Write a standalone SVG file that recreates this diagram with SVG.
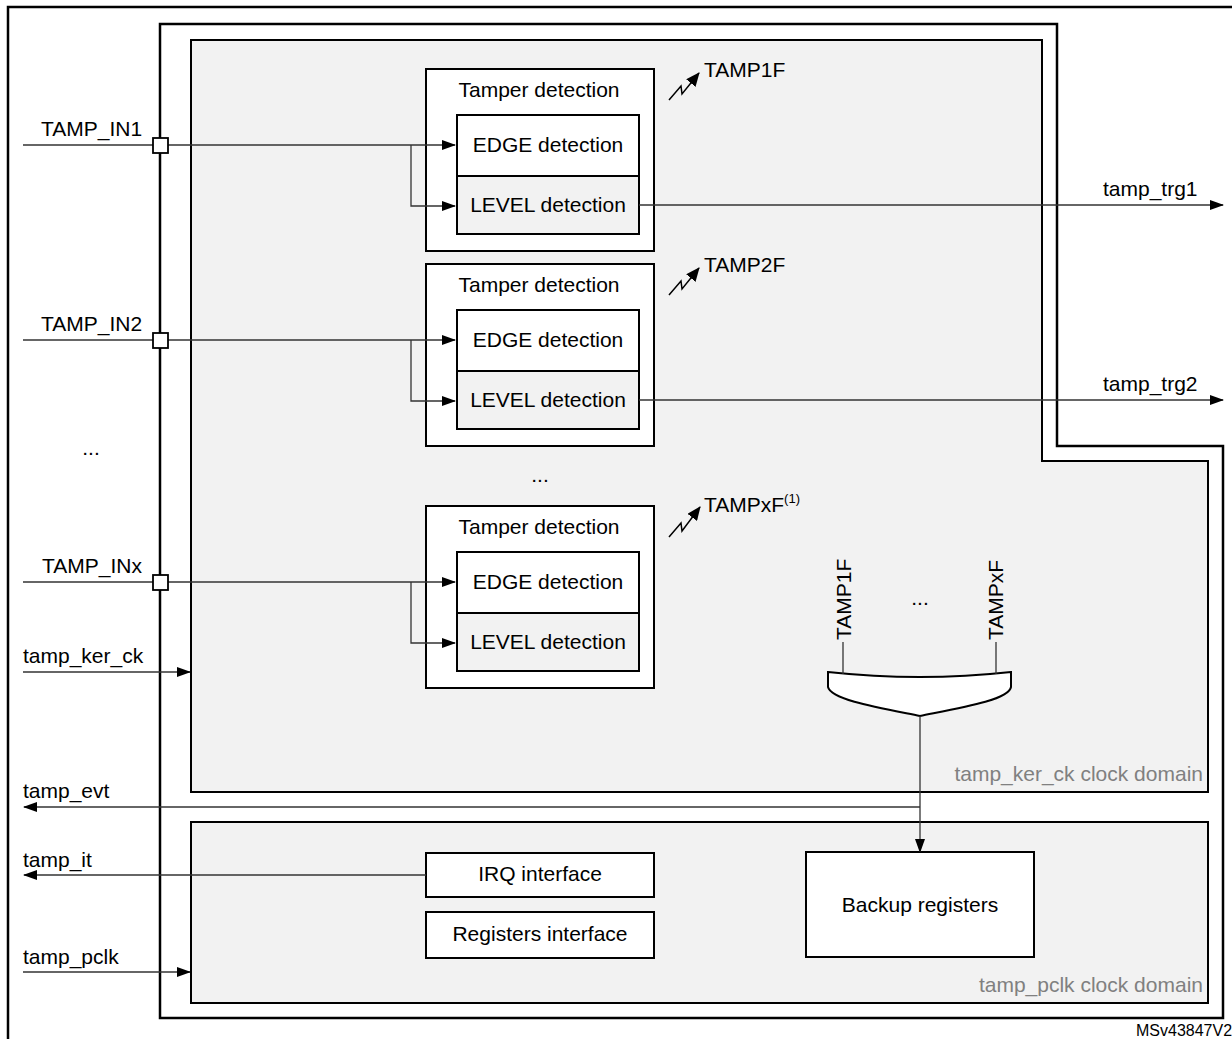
<svg xmlns="http://www.w3.org/2000/svg" width="1232" height="1039" viewBox="0 0 1232 1039">
<defs>
<marker id="arr" markerWidth="14" markerHeight="10" refX="13" refY="5" orient="auto" markerUnits="userSpaceOnUse">
<path d="M0,0 L14,5 L0,10 Z" fill="#000"/>
</marker>
<marker id="bolt" markerWidth="14" markerHeight="12" refX="13" refY="6" orient="auto" markerUnits="userSpaceOnUse">
<path d="M0,0 L14,6 L0,12 Z" fill="#000"/>
</marker>
</defs>
<style>
text{font-family:"Liberation Sans",Arial,sans-serif;font-size:21px;fill:#000}
.c{text-anchor:middle}
.dom{fill:#808080;text-anchor:end}
.frame{fill:none;stroke:#000;stroke-width:2.5}
.box{stroke:#000;stroke-width:2}
.wire{fill:none;stroke:#333;stroke-width:1.3}
.arrw{fill:none;stroke:#333;stroke-width:1.3;marker-end:url(#arr)}
.bl{fill:none;stroke:#000;stroke-width:1.5;marker-end:url(#bolt)}
.pin{fill:#fff;stroke:#000;stroke-width:1.8}
</style>
<rect width="1232" height="1039" fill="#fff"/>
<g id="outer-frame">
<rect x="8" y="7" width="1260" height="1100" class="frame"/>
<path d="M160,24 H1057 V446 H1223 V1018 H160 Z" fill="#fff" stroke="#000" stroke-width="2.5"/>
</g>
<g id="ker-domain">
<path d="M191,40 H1042 V461 H1208 V792 H191 Z" fill="#f2f2f2" stroke="#000" stroke-width="2"/>
<text x="1203" y="781" class="dom">tamp_ker_ck clock domain</text>
</g>
<g id="pclk-domain">
<rect x="191" y="822" width="1017" height="181" fill="#f2f2f2" stroke="#000" stroke-width="2"/>
<text x="1203" y="992" class="dom">tamp_pclk clock domain</text>
</g>
<g id="tamper1">
<rect x="426" y="69" width="228" height="182" fill="#fff" class="box"/>
<text x="539" y="97" class="c">Tamper detection</text>
<rect x="457" y="115" width="182" height="61" fill="#fff" class="box"/>
<text x="548" y="152" class="c">EDGE detection</text>
<rect x="457" y="176" width="182" height="58" fill="#f2f2f2" class="box"/>
<text x="548" y="212" class="c">LEVEL detection</text>
<text x="704" y="77">TAMP1F</text>
</g>
<g id="tamper2">
<rect x="426" y="264" width="228" height="182" fill="#fff" class="box"/>
<text x="539" y="292" class="c">Tamper detection</text>
<rect x="457" y="310" width="182" height="61" fill="#fff" class="box"/>
<text x="548" y="347" class="c">EDGE detection</text>
<rect x="457" y="371" width="182" height="58" fill="#f2f2f2" class="box"/>
<text x="548" y="407" class="c">LEVEL detection</text>
<text x="704" y="272">TAMP2F</text>
</g>
<g id="label-dots-mid"><text x="540" y="482" class="c">...</text></g>
<g id="tamperx">
<rect x="426" y="506" width="228" height="182" fill="#fff" class="box"/>
<text x="539" y="534" class="c">Tamper detection</text>
<rect x="457" y="552" width="182" height="61" fill="#fff" class="box"/>
<text x="548" y="589" class="c">EDGE detection</text>
<rect x="457" y="613" width="182" height="58" fill="#f2f2f2" class="box"/>
<text x="548" y="649" class="c">LEVEL detection</text>
<text x="704" y="512">TAMPxF<tspan dy="-9" font-size="13">(1)</tspan></text>
</g>
<g id="or-gate">
<path d="M828,672 Q920,682 1011,672 L1011,687 C1009,700 960,708 920,716 C880,708 831,700 828,687 Z" fill="#fff" stroke="#000" stroke-width="2"/>
<text transform="translate(851,640) rotate(-90)">TAMP1F</text>
<text transform="translate(1003,640) rotate(-90)">TAMPxF</text>
<text x="920" y="605" class="c">...</text>
</g>
<g id="irq"><rect x="426" y="853" width="228" height="44" fill="#fff" class="box"/><text x="540" y="881" class="c">IRQ interface</text></g>
<g id="regif"><rect x="426" y="912" width="228" height="46" fill="#fff" class="box"/><text x="540" y="941" class="c">Registers interface</text></g>
<g id="backup"><rect x="806" y="852" width="228" height="105" fill="#fff" class="box"/><text x="920" y="912" class="c">Backup registers</text></g>
<g id="connectors">
<path d="M23,145 H455" class="arrw"/>
<path d="M411,145 V206 H455" class="arrw"/>
<path d="M639,205 H1223" class="arrw"/>
<path d="M23,340 H455" class="arrw"/>
<path d="M411,340 V401 H455" class="arrw"/>
<path d="M639,400 H1223" class="arrw"/>
<path d="M23,582 H455" class="arrw"/>
<path d="M411,582 V643 H455" class="arrw"/>
<path d="M23,672 H190" class="arrw"/>
<path d="M23,972 H190" class="arrw"/>
<path d="M843,642 V674" class="wire"/>
<path d="M996,642 V674" class="wire"/>
<path d="M920,716 V852" class="arrw"/>
<path d="M920,807 H24" class="arrw"/>
<path d="M426,875 H24" class="arrw"/>
<path d="M669,100 L681,86 L682,94 L699,73" class="bl"/>
<path d="M669,295 L681,281 L682,289 L699,268" class="bl"/>
<path d="M669,537 L681,523 L682,531 L700,507" class="bl"/>
</g>
<g id="pin-in1"><rect x="153" y="138" width="15" height="15" class="pin"/><text x="41" y="136">TAMP_IN1</text></g>
<g id="pin-in2"><rect x="153" y="333" width="15" height="15" class="pin"/><text x="41" y="331">TAMP_IN2</text></g>
<g id="pin-inx"><rect x="153" y="575" width="15" height="15" class="pin"/><text x="42" y="573">TAMP_INx</text></g>
<g id="label-dots-left"><text x="91" y="455" class="c">...</text></g>
<g id="label-ker"><text x="23" y="663">tamp_ker_ck</text></g>
<g id="label-evt"><text x="23" y="798">tamp_evt</text></g>
<g id="label-it"><text x="23" y="867">tamp_it</text></g>
<g id="label-pclk"><text x="23" y="964">tamp_pclk</text></g>
<g id="label-trg1"><text x="1103" y="196">tamp_trg1</text></g>
<g id="label-trg2"><text x="1103" y="391">tamp_trg2</text></g>
<g id="ref"><text x="1136" y="1036" style="font-size:16px">MSv43847V2</text></g>
</svg>
